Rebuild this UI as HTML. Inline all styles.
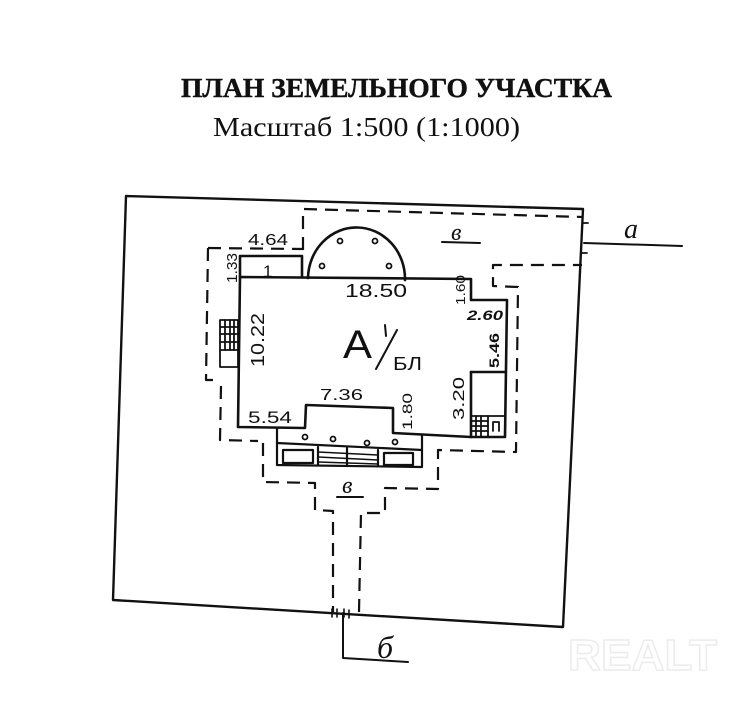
<!DOCTYPE html>
<html><head><meta charset="utf-8"><style>
html,body{margin:0;padding:0;background:#fff;}
svg{display:block;}
</style></head><body>
<svg width="755" height="710" viewBox="0 0 755 710" xmlns="http://www.w3.org/2000/svg">
<rect width="755" height="710" fill="#fff"/>
<!-- Title -->
<text x="181" y="97" font-family="Liberation Serif, serif" font-weight="bold" font-size="27" textLength="431" lengthAdjust="spacingAndGlyphs" fill="#111" stroke="#111" stroke-width="0.4">ПЛАН ЗЕМЕЛЬНОГО УЧАСТКА</text>
<text x="213" y="136" font-family="Liberation Serif, serif" font-size="27" textLength="307" lengthAdjust="spacingAndGlyphs" fill="#111">Масштаб 1:500 (1:1000)</text>

<!-- Watermark -->
<text x="568" y="670" font-family="Liberation Sans, sans-serif" font-weight="bold" font-size="44" textLength="149" lengthAdjust="spacingAndGlyphs" fill="#fff" stroke="#ececec" stroke-width="1.5">REALT</text>

<g fill="none" stroke="#111" stroke-linecap="round" stroke-linejoin="round">
<!-- Plot boundary -->
<polygon points="126,196 583,209 563,627 113,600" stroke-width="2.4"/>
<!-- 'a' leader -->
<line x1="584" y1="243" x2="682" y2="246" stroke-width="2"/>
<line x1="583" y1="223" x2="588" y2="223" stroke-width="1.8"/>
<line x1="582" y1="253" x2="587" y2="253" stroke-width="1.8"/>
<!-- 'б' leader -->
<polyline points="343,613 343,658 408,662" stroke-width="2"/>
<g stroke-width="1.6">
<line x1="332" y1="609" x2="332" y2="617"/>
<line x1="337" y1="609" x2="337" y2="617"/>
<line x1="344" y1="609" x2="344" y2="617"/>
<line x1="349" y1="610" x2="349" y2="618"/>
</g>

<!-- Dashed lines -->
<g stroke-width="2.2" stroke-dasharray="13,8" stroke-linecap="butt">
<polyline points="303,250 303,209 583,217"/>
<polyline points="208,248 303,249"/>
<polyline points="208,248 206,380 215,380"/>
<polyline points="221,386 220,440 258,441"/>
<polyline points="263,443 263,482 315,483 315,510 333,511 333,612"/>
<polyline points="359,612 361,513 385,513 385,488 438,489 438,450 516,452 518,287 493,286 493,265 582,265"/>
</g>

<!-- Building -->
<g stroke-width="2.6">
<polygon points="240,277 471,279 471,300 507,300 505,437 471,437 393,433 393,408 306,405 305,428 238,427"/>
<polyline points="471,372 471,437"/>
<polyline points="471,372 505,372"/>
<!-- room 1 -->
<polyline points="240,277 240,256 302,256 302,277"/>
<!-- semicircle bay -->
<path d="M308,278 A48,51 0 0 1 405,280"/>
</g>
<!-- left stairs -->
<g stroke-width="1.8">
<rect x="220" y="320" width="18" height="47"/>
<line x1="220" y1="327" x2="238" y2="327"/>
<line x1="220" y1="334" x2="238" y2="334"/>
<line x1="220" y1="342" x2="238" y2="342"/>
<line x1="220" y1="350" x2="238" y2="350"/>
<line x1="225" y1="320" x2="225" y2="350"/>
<line x1="230" y1="320" x2="230" y2="350"/>
<line x1="234" y1="320" x2="234" y2="350"/>
</g>
<!-- annex stairs -->
<g stroke-width="1.8">
<line x1="471" y1="416" x2="504" y2="416"/>
<line x1="488" y1="416" x2="488" y2="437"/>
<line x1="471" y1="421" x2="488" y2="421"/>
<line x1="471" y1="426" x2="488" y2="426"/>
<line x1="471" y1="431" x2="488" y2="431"/>
<line x1="476" y1="416" x2="476" y2="437"/>
<line x1="481" y1="416" x2="481" y2="437"/>
<polyline points="493,431 493,422 499,422 499,431"/>
</g>
<!-- porch -->
<g stroke-width="2.2">
<polyline points="277,429 277,465 422,467 422,436"/>
<line x1="277" y1="443" x2="422" y2="450"/>
<rect x="283" y="450" width="30" height="13"/>
<rect x="384" y="453" width="29" height="12"/>
<line x1="318" y1="447" x2="318" y2="465"/>
<line x1="347" y1="448" x2="347" y2="466"/>
<line x1="378" y1="450" x2="378" y2="466"/>
<g stroke-width="1.6">
<line x1="318" y1="452" x2="378" y2="455"/>
<line x1="318" y1="457" x2="378" y2="460"/>
<line x1="318" y1="462" x2="378" y2="464"/>
</g>
</g>
<!-- dots -->
<g stroke-width="1.8">
<circle cx="305" cy="437" r="2.5"/>
<circle cx="333" cy="439" r="2.5"/>
<circle cx="367" cy="443" r="2.5"/>
<circle cx="395" cy="442" r="2.5"/>
<circle cx="340" cy="241" r="2.5"/>
<circle cx="375" cy="241" r="2.5"/>
<circle cx="322" cy="266" r="2.5"/>
<circle cx="389" cy="266" r="2.5"/>
</g>
<!-- A / БЛ slash -->
<line x1="376" y1="369" x2="397" y2="330" stroke-width="2"/>
<line x1="385" y1="325" x2="386" y2="336" stroke-width="2"/>
<!-- underlines -->
<line x1="442" y1="242" x2="480" y2="243" stroke-width="2"/>
<line x1="337" y1="497" x2="363" y2="497" stroke-width="2"/>
</g>

<!-- Labels -->
<g font-family="Liberation Sans, sans-serif" fill="#111">
<text x="248" y="245" font-size="16" textLength="40" lengthAdjust="spacingAndGlyphs">4.64</text>
<text x="263" y="277" font-size="17">1</text>
<text x="345" y="297" font-size="18" textLength="62" lengthAdjust="spacingAndGlyphs">18.50</text>
<text x="320" y="400" font-size="16" textLength="43" lengthAdjust="spacingAndGlyphs">7.36</text>
<text x="248" y="423" font-size="17" textLength="44" lengthAdjust="spacingAndGlyphs">5.54</text>
<text x="467" y="320" font-size="14" font-style="italic" font-weight="bold" textLength="36" lengthAdjust="spacingAndGlyphs">2.60</text>
<text transform="translate(237,283) rotate(-90)" font-size="15" textLength="30" lengthAdjust="spacingAndGlyphs">1.33</text>
<text transform="translate(264,367) rotate(-90)" font-size="18" textLength="54" lengthAdjust="spacingAndGlyphs">10.22</text>
<text transform="translate(412,430) rotate(-90)" font-size="14" textLength="37" lengthAdjust="spacingAndGlyphs">1.80</text>
<text transform="translate(465,305) rotate(-90)" font-size="13" textLength="30" lengthAdjust="spacingAndGlyphs">1.60</text>
<text transform="translate(499,368) rotate(-90)" font-size="14" font-weight="bold" textLength="35" lengthAdjust="spacingAndGlyphs">5.46</text>
<text transform="translate(464,420) rotate(-90)" font-size="16" textLength="43" lengthAdjust="spacingAndGlyphs">3.20</text>
<text x="343" y="358" font-size="40" textLength="29" lengthAdjust="spacingAndGlyphs">А</text>
<text x="393" y="370" font-size="18" textLength="29" lengthAdjust="spacingAndGlyphs">БЛ</text>
</g>
<g font-family="Liberation Serif, serif" font-style="italic" fill="#111">
<text x="451" y="240" font-size="24">в</text>
<text x="342" y="493" font-size="24">в</text>
<text x="624" y="238" font-size="28">a</text>
<text x="377" y="658" font-size="32">б</text>
</g>
</svg>
</body></html>
